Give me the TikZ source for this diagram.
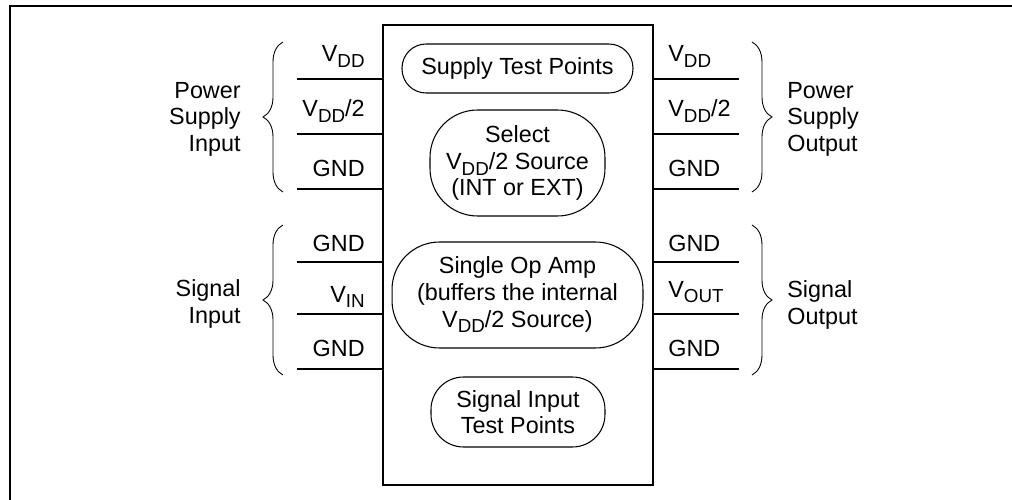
\documentclass[tikz,border=0pt]{standalone}
\usepackage{fontspec}
\setmainfont{Liberation Sans}
\usetikzlibrary{decorations.pathreplacing}
\newcommand\Sub[1]{\raisebox{-3.4pt}{\fontsize{10.7}{12}\selectfont #1}}
\begin{document}
\begin{tikzpicture}[x=0.02cm,y=-0.02cm,font=\fontsize{13.3}{15.1}\selectfont]

    \tikzset{
      ChipStyle/.style = { draw, line width=1.1pt, minimum width=5.4cm,
			  minimum height=9.2cm, inner sep=0pt },
      TestStyle/.style = { draw, line width=0.6pt, align=center, inner sep=0pt },
      PinStyle/.style = { inner sep=0pt },
      GroupStyle/.style = { inner sep=0pt },
      WireStyle/.style = { line width=1.1pt },
      BraceStyle/.style = { decorate, line width=0.5pt,
			  decoration = {brace, amplitude=0.4cm} } }
      \useasboundingbox (0,0) rectangle (1012,500);
      \draw[line width=1.1pt] (10,500) -- (10,6) -- (1012,6);

      \node (chip) at (518,255) [ChipStyle] {};

      \node (supplytp) at (517.5,68.5) [TestStyle, minimum width=4.62cm,
        minimum height=0.98cm, rounded corners=0.48cm] {Supply Test Points};
      \node (select) at (517.5,163) [TestStyle, minimum width=3.5cm,
        minimum height=2.12cm, rounded corners=0.95cm]
        {Select\\V\Sub{DD}/2 Source\\(INT or EXT)};
      \node (opamp) at (517.5,295) [TestStyle, minimum width=5.02cm,
        minimum height=2.12cm, rounded corners=0.95cm]
        {Single Op Amp\\(buffers the internal\\V\Sub{DD}/2 Source)};
      \node (signaltp) at (518,412) [TestStyle, minimum width=3.48cm,
        minimum height=1.4cm, rounded corners=0.65cm] {Signal Input\\Test Points};

      \coordinate (inA) at (297,79);
      \coordinate (inB) at (297,134);
      \coordinate (inC) at (297,189);
      \coordinate (inD) at (297,262);
      \coordinate (inE) at (297,314);
      \coordinate (inF) at (297,369);
      \coordinate (outA) at (739,79);
      \coordinate (outB) at (739,134);
      \coordinate (outC) at (739,189);
      \coordinate (outD) at (739,262);
      \coordinate (outE) at (739,314);
      \coordinate (outF) at (739,369);

      \draw[WireStyle] (inA) -- (inA -| chip.west);
      \draw[WireStyle] (inB) -- (inB -| chip.west);
      \draw[WireStyle] (inC) -- (inC -| chip.west);
      \draw[WireStyle] (inD) -- (inD -| chip.west);
      \draw[WireStyle] (inE) -- (inE -| chip.west);
      \draw[WireStyle] (inF) -- (inF -| chip.west);
      \draw[WireStyle] (outA -| chip.east) -- (outA);
      \draw[WireStyle] (outB -| chip.east) -- (outB);
      \draw[WireStyle] (outC -| chip.east) -- (outC);
      \draw[WireStyle] (outD -| chip.east) -- (outD);
      \draw[WireStyle] (outE -| chip.east) -- (outE);
      \draw[WireStyle] (outF -| chip.east) -- (outF);

      \node (vddin) at (365,62) [PinStyle, anchor=base east] {V\Sub{DD}};
      \node (halfin) at (365,117) [PinStyle, anchor=base east] {V\Sub{DD}/2};
      \node (gndinA) at (365,177) [PinStyle, anchor=base east] {GND};
      \node (gndinB) at (365,252) [PinStyle, anchor=base east] {GND};
      \node (vin) at (365,302) [PinStyle, anchor=base east] {V\Sub{IN}};
      \node (gndinC) at (365,357) [PinStyle, anchor=base east] {GND};

      \node (vddout) at (668,62) [PinStyle, anchor=base west] {V\Sub{DD}};
      \node (halfout) at (668,117) [PinStyle, anchor=base west] {V\Sub{DD}/2};
      \node (gndoutA) at (668,177) [PinStyle, anchor=base west] {GND};
      \node (gndoutB) at (668,252) [PinStyle, anchor=base west] {GND};
      \node (vout) at (668,297) [PinStyle, anchor=base west] {V\Sub{OUT}};
      \node (gndoutC) at (668,357) [PinStyle, anchor=base west] {GND};

      \coordinate (braceA1) at (283,192);
      \coordinate (braceA2) at (283,42);
      \coordinate (braceB1) at (283,375);
      \coordinate (braceB2) at (283,225);
      \coordinate (braceC1) at (752,42);
      \coordinate (braceC2) at (752,192);
      \coordinate (braceD1) at (752,225);
      \coordinate (braceD2) at (752,375);
      \draw[BraceStyle] (braceA1) -- (braceA2);
      \draw[BraceStyle] (braceB1) -- (braceB2);
      \draw[BraceStyle] (braceC1) -- (braceC2);
      \draw[BraceStyle] (braceD1) -- (braceD2);

      \node (psin) at (241,119) [GroupStyle, anchor=east, align=right]
        {Power\\Supply\\Input};
      \node (sigin) at (241,304) [GroupStyle, anchor=east, align=right]
        {Signal\\Input};
      \node (psout) at (787,119) [GroupStyle, anchor=west, align=left]
        {Power\\Supply\\Output};
      \node (sigout) at (787,305) [GroupStyle, anchor=west, align=left]
        {Signal\\Output};
\end{tikzpicture}
\end{document}
